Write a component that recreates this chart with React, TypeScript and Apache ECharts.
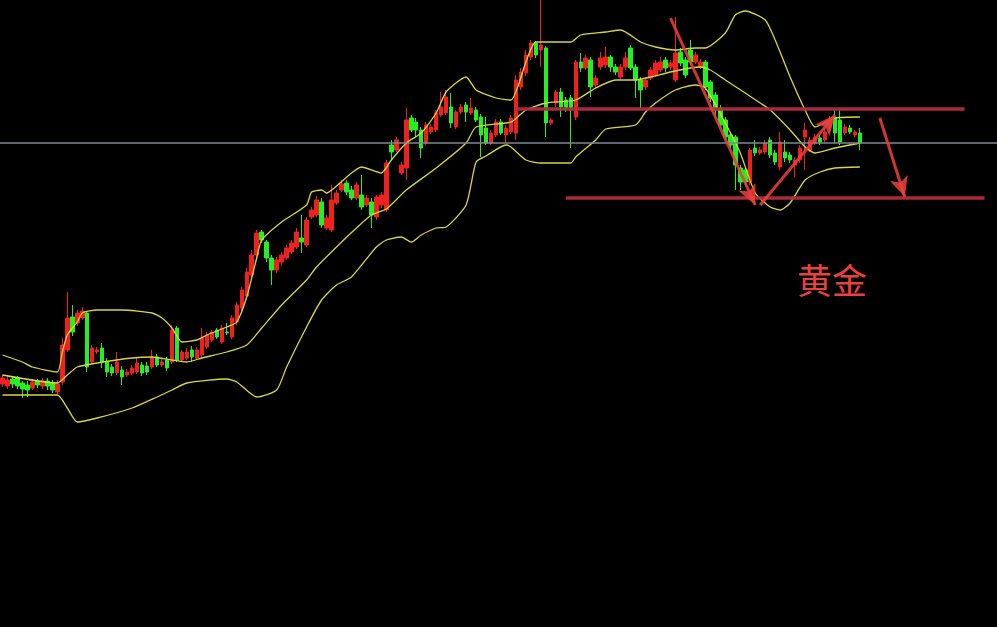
import React, { useEffect, useRef } from "react";
import * as echarts from "echarts";

// ---- Data (prices) ----
const categoryCount = 200;
const categories: string[] = Array.from({ length: categoryCount }, (_, i) => String(i + 1));

const opens = [
  2216, 2214, 2221, 2222, 2217, 2215, 2212, 2219, 2214, 2219,
  2217, 2208, 2218, 2250, 2283, 2277, 2282, 2287, 2238, 2248,
  2252, 2238, 2233, 2227, 2230, 2225, 2227, 2228, 2235, 2234,
  2233, 2243, 2235, 2240, 2238, 2272, 2240, 2242, 2250, 2242,
  2245, 2253, 2260, 2270, 2258, 2268, 2263, 2278, 2292, 2304,
  2325, 2345, 2368, 2358, 2342, 2330, 2338, 2342, 2348, 2353,
  2362, 2355, 2383, 2385, 2398, 2372, 2370, 2397, 2410, 2417,
  2410, 2402, 2405, 2395, 2398, 2383, 2395, 2390, 2455, 2450,
  2427, 2432, 2482, 2478, 2470, 2457, 2468, 2470, 2485, 2487,
  2493, 2473, 2488, 2495, 2487, 2490, 2483, 2472, 2457, 2465,
  2478, 2465, 2468, 2467, 2513, 2527, 2543, 2557, 2550, 2552,
  2477, 2497, 2508, 2500, 2502, 2483, 2538, 2532, 2540, 2515,
  2533, 2535, 2543, 2533, 2523, 2533, 2552, 2533, 2520, 2513,
  2522, 2525, 2530, 2540, 2533, 2520, 2548, 2540, 2550, 2538,
  2533, 2538, 2518, 2505, 2492, 2480, 2465, 2463, 2432, 2430,
  2418, 2452, 2447, 2448, 2460, 2447, 2433, 2448, 2445, 2435,
  2440, 2463, 2450, 2457, 2462, 2460, 2473, 2482, 2480, 2467,
  2472, 2465, 2467,
];
const closes = [
  2222, 2220, 2216, 2214, 2211, 2210, 2218, 2215, 2219, 2214,
  2210, 2216, 2255, 2282, 2268, 2287, 2289, 2233, 2252, 2250,
  2238, 2228, 2227, 2238, 2223, 2228, 2232, 2237, 2227, 2228,
  2243, 2235, 2238, 2232, 2270, 2240, 2248, 2248, 2243, 2250,
  2262, 2265, 2268, 2263, 2272, 2267, 2282, 2295, 2310, 2328,
  2345, 2367, 2360, 2342, 2330, 2340, 2345, 2352, 2357, 2368,
  2358, 2380, 2390, 2400, 2375, 2382, 2400, 2407, 2416, 2408,
  2402, 2415, 2393, 2402, 2385, 2403, 2405, 2437, 2448, 2460,
  2435, 2480, 2470, 2470, 2452, 2475, 2473, 2487, 2493, 2503,
  2477, 2488, 2493, 2488, 2492, 2480, 2465, 2457, 2467, 2478,
  2467, 2472, 2482, 2520, 2528, 2545, 2557, 2545, 2555, 2477,
  2480, 2508, 2493, 2492, 2490, 2538, 2532, 2542, 2513, 2522,
  2542, 2543, 2533, 2528, 2533, 2542, 2532, 2520, 2510, 2520,
  2530, 2537, 2538, 2532, 2537, 2547, 2537, 2525, 2538, 2545,
  2538, 2513, 2502, 2490, 2475, 2463, 2455, 2435, 2418, 2418,
  2450, 2447, 2450, 2457, 2445, 2438, 2458, 2442, 2440, 2440,
  2452, 2470, 2460, 2463, 2458, 2468, 2480, 2467, 2458, 2473,
  2468, 2468, 2457,
];
const lows = [
  2213, 2211, 2212, 2211, 2202, 2203, 2210, 2212, 2211, 2210,
  2207, 2205, 2215, 2248, 2264, 2274, 2280, 2228, 2236, 2246,
  2232, 2223, 2224, 2225, 2215, 2223, 2225, 2226, 2224, 2225,
  2231, 2233, 2233, 2229, 2236, 2238, 2238, 2240, 2238, 2240,
  2243, 2251, 2258, 2261, 2256, 2265, 2261, 2275, 2288, 2300,
  2322, 2342, 2357, 2338, 2315, 2327, 2335, 2340, 2346, 2351,
  2347, 2353, 2381, 2383, 2372, 2370, 2368, 2395, 2408, 2405,
  2400, 2400, 2390, 2393, 2372, 2380, 2392, 2388, 2440, 2448,
  2425, 2420, 2468, 2463, 2442, 2455, 2466, 2468, 2483, 2485,
  2472, 2471, 2486, 2478, 2485, 2478, 2443, 2455, 2455, 2463,
  2465, 2457, 2466, 2460, 2510, 2524, 2540, 2542, 2533, 2463,
  2475, 2493, 2483, 2488, 2452, 2480, 2528, 2530, 2503, 2512,
  2530, 2532, 2528, 2525, 2520, 2530, 2530, 2502, 2492, 2510,
  2520, 2523, 2528, 2528, 2530, 2518, 2534, 2522, 2535, 2536,
  2531, 2510, 2498, 2485, 2472, 2460, 2452, 2410, 2410, 2414,
  2415, 2444, 2445, 2446, 2442, 2435, 2430, 2438, 2437, 2423,
  2437, 2430, 2448, 2455, 2455, 2458, 2470, 2457, 2455, 2465,
  2466, 2463, 2450,
];
const highs = [
  2225, 2223, 2224, 2224, 2219, 2219, 2221, 2221, 2222, 2222,
  2220, 2220, 2262, 2308, 2295, 2290, 2293, 2289, 2255, 2253,
  2257, 2242, 2236, 2248, 2234, 2231, 2235, 2242, 2238, 2238,
  2250, 2246, 2241, 2243, 2275, 2274, 2250, 2252, 2254, 2253,
  2272, 2268, 2270, 2272, 2275, 2277, 2285, 2298, 2313, 2332,
  2350, 2370, 2370, 2360, 2345, 2343, 2348, 2355, 2360, 2372,
  2385, 2383, 2393, 2404, 2402, 2385, 2415, 2410, 2420, 2420,
  2414, 2418, 2425, 2405, 2402, 2405, 2408, 2440, 2460, 2463,
  2438, 2492, 2485, 2482, 2473, 2478, 2476, 2490, 2508, 2510,
  2507, 2490, 2496, 2498, 2502, 2493, 2486, 2483, 2470, 2481,
  2481, 2475, 2485, 2525, 2532, 2550, 2560, 2559, 2600, 2554,
  2482, 2510, 2512, 2503, 2505, 2540, 2547, 2545, 2543, 2525,
  2548, 2553, 2545, 2536, 2536, 2548, 2555, 2536, 2523, 2523,
  2533, 2540, 2543, 2543, 2540, 2583, 2552, 2543, 2560, 2548,
  2541, 2540, 2520, 2508, 2495, 2483, 2468, 2465, 2435, 2433,
  2452, 2460, 2453, 2460, 2463, 2450, 2468, 2460, 2448, 2443,
  2455, 2477, 2463, 2466, 2465, 2472, 2484, 2490, 2490, 2476,
  2475, 2470, 2472,
];

// Bollinger band readings: [candle index, price]
const upperBand: [number, number][] = [
  [0, 2245], [4, 2238], [6, 2233], [11, 2228], [12, 2248], [13, 2265], [15, 2278],
  [16, 2287], [19, 2290], [24, 2290], [30, 2287], [32, 2282], [34, 2272], [36, 2258],
  [39, 2260], [41, 2265], [45, 2273], [47, 2278], [49, 2303], [51, 2342], [52, 2360],
  [56, 2378], [61, 2395], [62, 2408], [64, 2410], [65, 2407], [67, 2414], [70, 2427],
  [72, 2433], [76, 2427], [78, 2440], [81, 2457], [84, 2467], [87, 2487], [89, 2508],
  [93, 2523], [95, 2510], [99, 2502], [102, 2500], [105, 2538], [107, 2558], [114, 2558],
  [116, 2565], [121, 2568], [124, 2570], [128, 2558], [131, 2553], [135, 2550], [139, 2552],
  [141, 2552], [145, 2567], [147, 2585], [149, 2589], [153, 2580], [155, 2560], [158, 2523],
  [161, 2490], [163, 2473], [167, 2482], [172, 2483],
];
const middleBand: [number, number][] = [
  [0, 2225], [11, 2217], [13, 2225], [15, 2233], [19, 2237], [26, 2242], [30, 2243],
  [34, 2240], [37, 2238], [40, 2242], [45, 2248], [49, 2255], [52, 2272], [56, 2295],
  [61, 2320], [63, 2333], [67, 2353], [71, 2372], [74, 2385], [77, 2391], [81, 2410],
  [87, 2432], [93, 2457], [95, 2473], [102, 2478], [105, 2490], [109, 2497], [115, 2500],
  [119, 2512], [123, 2520], [127, 2520], [130, 2523], [134, 2528], [138, 2532], [140, 2533],
  [142, 2530], [145, 2520], [149, 2507], [154, 2490], [158, 2470], [161, 2453], [163, 2447],
  [167, 2452], [172, 2457],
];
const lowerBand: [number, number][] = [
  [0, 2205], [11, 2205], [13, 2192], [15, 2178], [19, 2182], [26, 2192], [31, 2203],
  [34, 2210], [37, 2217], [45, 2221], [47, 2218], [51, 2203], [55, 2210], [57, 2233],
  [61, 2273], [64, 2300], [67, 2315], [70, 2323], [75, 2353], [77, 2360], [80, 2363],
  [82, 2358], [84, 2365], [87, 2372], [89, 2373], [93, 2395], [95, 2438], [97, 2444],
  [101, 2455], [102, 2453], [105, 2440], [108, 2437], [114, 2437], [115, 2443], [119, 2460],
  [121, 2471], [127, 2475], [129, 2488], [131, 2497], [135, 2510], [139, 2515], [141, 2512],
  [145, 2477], [148, 2447], [151, 2407], [154, 2393], [156, 2390], [158, 2397], [161, 2420],
  [164, 2428], [167, 2432], [172, 2433],
];

// Annotation levels
const grayLevel = 2457;
const resistanceLine = { from: 103, to: 193, price: 2491 };
const supportLine = { from: 113, to: 197, price: 2402 };
const arrowLines: [number, number][][] = [
  [[134, 2582], [151, 2395]],
  [[152, 2395], [167, 2485]],
  [[176, 2482], [181, 2403]],
];
const labelText = "黄金";

export default function App() {
  const ref = useRef<HTMLDivElement>(null);

  useEffect(() => {
    document.body.style.margin = "0";
    document.body.style.background = "#000";
    if (!ref.current) return;
    const chart = echarts.init(ref.current, null, { renderer: "svg" });

    const candleData = opens.map((o, i) => [o, closes[i], lows[i], highs[i]]);
    const bandColor = "#d8d83a";
    const red = "#f02020";
    const green = "#22f022";
    const levelStyle = { color: "rgba(178,44,60,0.95)", width: 3.5, type: "solid" as const };
    const arrowStyle = { color: "rgba(236,62,62,0.88)", width: 3, type: "solid" as const };

    chart.setOption({
      animation: false,
      backgroundColor: "#000",
      title: {
        text: labelText,
        left: 797,
        top: 261,
        padding: 0,
        textStyle: {
          color: "#ea4040",
          fontSize: 35,
          fontWeight: "normal",
          fontFamily: "Noto Sans CJK SC",
        },
      },
      grid: { left: 0, right: 0, top: 0, bottom: 0, containLabel: false },
      xAxis: {
        type: "category",
        data: categories,
        boundaryGap: true,
        show: false,
      },
      yAxis: {
        type: "value",
        min: 1973,
        max: 2600,
        show: false,
        splitLine: { show: false },
      },
      series: [
        {
          type: "candlestick",
          data: candleData,
          barWidth: 4,
          itemStyle: {
            color: red,
            color0: green,
            borderColor: red,
            borderColor0: green,
            borderWidth: 1,
          },
          z: 2,
          markLine: {
            silent: true,
            symbol: ["none", "none"],
            label: { show: false },
            data: [
              { yAxis: grayLevel, lineStyle: { color: "#7d8799", width: 1.5, type: "solid" } },
              [
                { coord: [resistanceLine.from, resistanceLine.price], lineStyle: levelStyle },
                { coord: [resistanceLine.to, resistanceLine.price] },
              ],
              [
                { coord: [supportLine.from, supportLine.price], lineStyle: levelStyle },
                { coord: [supportLine.to, supportLine.price] },
              ],
            ],
          },
        },
        {
          type: "line",
          data: upperBand,
          symbol: "none",
          smooth: 0.2,
          lineStyle: { color: bandColor, width: 1.3 },
          z: 3,
          markLine: {
            silent: true,
            symbol: ["none", "arrow"],
            symbolSize: [14, 20],
            label: { show: false },
            lineStyle: arrowStyle,
            data: arrowLines.map((seg) => [
              { coord: seg[0], lineStyle: arrowStyle },
              { coord: seg[1] },
            ]),
          },
        },
        {
          type: "line",
          data: middleBand,
          symbol: "none",
          smooth: 0.2,
          lineStyle: { color: bandColor, width: 1.3 },
          z: 3,
        },
        {
          type: "line",
          data: lowerBand,
          symbol: "none",
          smooth: 0.2,
          lineStyle: { color: bandColor, width: 1.3 },
          z: 3,
        },
      ],
    });

    return () => chart.dispose();
  }, []);

  return (
    <div
      ref={ref}
      style={{ position: "absolute", left: 0, top: 0, width: 997, height: 627, background: "#000" }}
    />
  );
}
